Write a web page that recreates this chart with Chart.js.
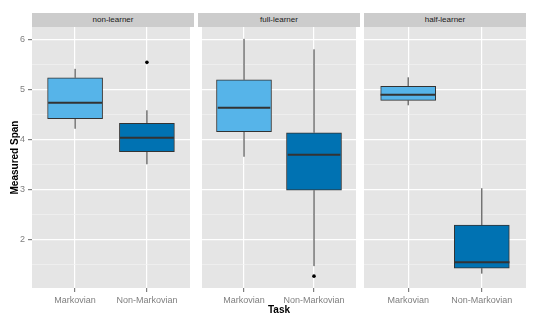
<!DOCTYPE html>
<html>
<head>
<meta charset="utf-8">
<script src="https://cdn.jsdelivr.net/npm/chart.js@4/dist/chart.umd.min.js"></script>
<style>
  body { margin: 0; background: #fff; font-family: "Liberation Sans", Arial, sans-serif; }
  #wrap { position: relative; width: 540px; height: 325px; }
  canvas { position: absolute; }
  .strip {
    position: absolute; top: 13px; height: 14px; line-height: 14px;
    background: #CCCCCC; color: #1A1A1A; font-size: 8px; text-align: center;
  }
  #xtitle {
    position: absolute; left: 32px; width: 494px; top: 304px;
    text-align: center; font-size: 10px; font-weight: bold; color: #000;
  }
</style>
</head>
<body>
<div id="wrap">
  <div class="strip" style="left:32px;width:162px">non-learner</div>
  <div class="strip" style="left:198px;width:162px">full-learner</div>
  <div class="strip" style="left:364px;width:162px">half-learner</div>
  <canvas id="panel0" width="194" height="284" style="left:0;top:22px"></canvas>
  <canvas id="panel1" width="162" height="284" style="left:198px;top:22px"></canvas>
  <canvas id="panel2" width="162" height="284" style="left:364px;top:22px"></canvas>
  <div id="xtitle">Task</div>
</div>
<script>
// 
// Measured span by task, one panel per learner type.
// 
var panels = ['non-learner', 'full-learner', 'half-learner'];
var tasks = ['Markovian', 'Non-Markovian'];

// box statistics, [panel][task]
var whiskerLow  = [[4.22, 3.51], [3.66, 1.47], [4.69, 1.32]];
var lowerQuart  = [[4.42, 3.76], [4.16, 2.99], [4.79, 1.43]];
var medians     = [[4.74, 4.04], [4.64, 3.70], [4.90, 1.55]];
var upperQuart  = [[5.24, 4.33], [5.20, 4.14], [5.07, 2.29]];
var whiskerHigh = [[5.42, 4.59], [6.02, 5.81], [5.25, 3.03]];
var outliers    = [[[], [5.55]], [[], [1.27]], [[], []]];

var yTicks = [2, 3, 4, 5, 6];

var taskColors = ['#56B4E9', '#0072B2'];
var lineColor = '#333333';
var boxWidth = 0.75;

Chart.defaults.font.family = '"Liberation Sans", Arial, sans-serif';

// 
// Axis range as ggplot does it: data range expanded by 5 %.
// 
var allValues = [];
for (var p = 0; p < panels.length; ++p) {
    for (var t = 0; t < tasks.length; ++t) {
        allValues.push(whiskerLow[p][t], whiskerHigh[p][t]);
        allValues = allValues.concat(outliers[p][t]);
    }
}
var dataMin = Math.min.apply(null, allValues);
var dataMax = Math.max.apply(null, allValues);
var yMin = dataMin - (dataMax - dataMin) * 0.05;
var yMax = dataMax + (dataMax - dataMin) * 0.05;

var yGrid = [];
yTicks.forEach(function (v) {
    yGrid.push(v - 0.5, v);
});

function isMajor(v) {
    return yTicks.indexOf(v) !== -1;
}

// no label overhang padding, the panels must line up exactly
function noPadding(scale) {
    scale.paddingTop = 0;
    scale.paddingBottom = 0;
    scale.paddingLeft = 0;
    scale.paddingRight = 0;
}

var panelBackground = {
    id: 'panelBackground',
    beforeDraw: function (chart) {
        var ctx = chart.ctx, a = chart.chartArea;
        ctx.save();
        ctx.fillStyle = '#E5E5E5';
        ctx.fillRect(a.left, a.top, a.right - a.left, a.bottom - a.top);
        ctx.restore();
    }
};

function segment(points, width, order) {
    return {
        type: 'line',
        data: points,
        borderColor: lineColor,
        borderWidth: width,
        pointRadius: 0,
        fill: false,
        tension: 0,
        order: order
    };
}

function buildChart(canvasId, p, showY) {
    var datasets = [];

    datasets.push({
        type: 'bar',
        data: tasks.map(function (name, i) {
            return {x: i + 1, y: [lowerQuart[p][i], upperQuart[p][i]]};
        }),
        backgroundColor: taskColors,
        borderColor: lineColor,
        borderWidth: 1,
        borderSkipped: false,
        barThickness: 55,
        order: 3
    });

    tasks.forEach(function (name, i) {
        var x = i + 1;
        datasets.push(segment([{x: x, y: whiskerLow[p][i]}, {x: x, y: lowerQuart[p][i]}], 1, 2));
        datasets.push(segment([{x: x, y: upperQuart[p][i]}, {x: x, y: whiskerHigh[p][i]}], 1, 2));
        datasets.push(segment([{x: x - boxWidth / 2, y: medians[p][i]}, {x: x + boxWidth / 2, y: medians[p][i]}], 2, 1));
        if (outliers[p][i].length) {
            datasets.push({
                type: 'scatter',
                data: outliers[p][i].map(function (v) { return {x: x, y: v}; }),
                backgroundColor: '#000000',
                borderWidth: 0,
                pointRadius: 1.8,
                order: 0
            });
        }
    });

    return new Chart(document.getElementById(canvasId), {
        type: 'bar',
        data: {datasets: datasets},
        plugins: [panelBackground],
        options: {
            responsive: false,
            animation: false,
            events: [],
            layout: {padding: {top: 5, left: 0, right: 0, bottom: 0}},
            plugins: {
                legend: {display: false},
                tooltip: {enabled: false}
            },
            scales: {
                x: {
                    type: 'linear',
                    min: 0.4,
                    max: 2.6,
                    offset: false,
                    afterBuildTicks: function (scale) {
                        scale.ticks = tasks.map(function (name, i) { return {value: i + 1}; });
                    },
                    afterFit: function (scale) {
                        scale.height = 18;
                        noPadding(scale);
                    },
                    ticks: {
                        color: '#7F7F7F',
                        font: {size: 9},
                        padding: 3,
                        autoSkip: false,
                        maxRotation: 0,
                        callback: function (v) { return tasks[v - 1]; }
                    },
                    grid: {
                        offset: false,
                        color: '#FFFFFF',
                        lineWidth: 1.2,
                        tickLength: 4,
                        tickColor: '#7F7F7F'
                    },
                    border: {display: false}
                },
                y: {
                    min: yMin,
                    max: yMax,
                    afterBuildTicks: function (scale) {
                        scale.ticks = yGrid.map(function (v) { return {value: v}; });
                    },
                    afterFit: function (scale) {
                        scale.width = showY ? 32 : 0;
                        noPadding(scale);
                    },
                    ticks: {
                        display: showY,
                        autoSkip: false,
                        color: '#7F7F7F',
                        font: {size: 9},
                        padding: 3,
                        callback: function (v) { return isMajor(v) ? String(v) : ''; }
                    },
                    grid: {
                        color: function (c) { return isMajor(c.tick.value) ? '#FFFFFF' : '#F2F2F2'; },
                        lineWidth: function (c) { return isMajor(c.tick.value) ? 1.2 : 0.7; },
                        drawTicks: showY,
                        tickLength: 4,
                        tickColor: function (c) { return isMajor(c.tick.value) ? '#7F7F7F' : 'rgba(0,0,0,0)'; }
                    },
                    border: {display: false},
                    title: {
                        display: showY,
                        text: 'Measured Span',
                        color: '#000000',
                        font: {size: 10, weight: 'bold'},
                        padding: {top: 9, bottom: 0}
                    }
                }
            }
        }
    });
}

panels.forEach(function (name, p) {
    buildChart('panel' + p, p, p === 0);
});
</script>
</body>
</html>
